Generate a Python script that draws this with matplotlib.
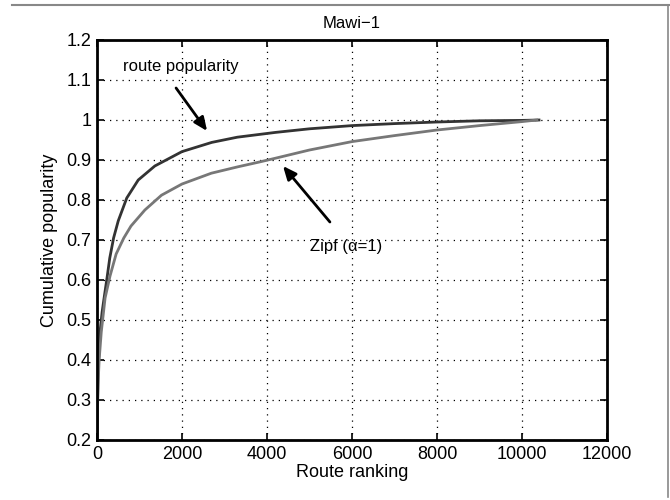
import matplotlib
matplotlib.use("Agg")
import matplotlib.pyplot as plt
from matplotlib.lines import Line2D

plt.rcParams["font.family"] = ["Liberation Sans", "DejaVu Sans"]

# route ranking positions and cumulative popularity
rank_route = [1, 10, 25, 50, 80, 120, 160, 235, 300, 390, 500, 700, 970, 1360,
              2000, 2700, 3300, 4200, 5000, 6000, 7000, 8000, 9000, 10000, 10400]
route_pop = [0.2, 0.28, 0.36, 0.43, 0.48, 0.52, 0.55, 0.605, 0.655, 0.705, 0.748,
             0.805, 0.85, 0.885, 0.921, 0.944, 0.957, 0.969, 0.978, 0.986, 0.991,
             0.995, 0.998, 0.999, 1.0]

rank_zipf = [1, 10, 25, 50, 100, 190, 306, 450, 630, 800, 1126, 1517, 2000, 2690,
             3315, 3820, 4180, 5000, 6000, 7000, 8000, 9000, 10000, 10350]
zipf_pop = [0.2, 0.27, 0.34, 0.40, 0.47, 0.555, 0.61, 0.665, 0.705, 0.735, 0.775,
            0.812, 0.84, 0.867, 0.883, 0.895, 0.904, 0.925, 0.946, 0.961, 0.975,
            0.986, 0.996, 1.0]

x_ticks = [0, 2000, 4000, 6000, 8000, 10000, 12000]
y_ticks = [0.2, 0.3, 0.4, 0.5, 0.6, 0.7, 0.8, 0.9, 1.0, 1.1, 1.2]
y_tick_labels = ["0.2", "0.3", "0.4", "0.5", "0.6", "0.7", "0.8", "0.9", "1", "1.1", "1.2"]

fig = plt.figure(figsize=(6.7, 5.0), dpi=100)
ax = fig.add_axes([0.1448, 0.12, 0.7612, 0.80])

ax.plot(rank_route, route_pop, color="#333333", linewidth=2.0)
ax.plot(rank_zipf, zipf_pop, color="#777777", linewidth=2.0)

ax.set_xlim(0, 12000)
ax.set_ylim(0.2, 1.2)
ax.set_xticks(x_ticks, [str(t) for t in x_ticks])
ax.set_yticks(y_ticks, y_tick_labels)
ax.tick_params(direction="in", top=True, right=True, length=5, width=1.2,
               labelsize=13, pad=4)
ax.grid(True, color="black", linestyle=(0, (1, 4)), linewidth=0.9)
for spine in ax.spines.values():
    spine.set_linewidth(2.0)

ax.set_title("Mawi\u22121", fontsize=12, pad=9)
ax.set_xlabel("Route ranking", fontsize=13, labelpad=1)
ax.set_ylabel("Cumulative popularity", fontsize=13, labelpad=6)

arrow_style = dict(arrowstyle="-|>,head_length=0.8,head_width=0.35",
                   color="black", lw=2.0, shrinkA=0, shrinkB=0)
ax.annotate("", xy=(2590, 0.9725), xytext=(1860, 1.08), arrowprops=arrow_style)
ax.text(600, 1.1325, "route popularity", fontsize=12, ha="left", va="center")

ax.annotate("", xy=(4376, 0.885), xytext=(5480, 0.745), arrowprops=arrow_style)
ax.text(5010, 0.685, "Zipf (\u03b1=1)", fontsize=12, ha="left", va="center")

# thin gray frame at the top and right of the figure
fig.add_artist(Line2D([12 / 670, 1.0], [495 / 500, 495 / 500], color="#888888",
                      linewidth=1.5, transform=fig.transFigure))
fig.add_artist(Line2D([667.5 / 670, 667.5 / 670], [3 / 500, 495 / 500], color="#888888",
                      linewidth=1.2, transform=fig.transFigure))

fig.savefig("out.png", dpi=100)
